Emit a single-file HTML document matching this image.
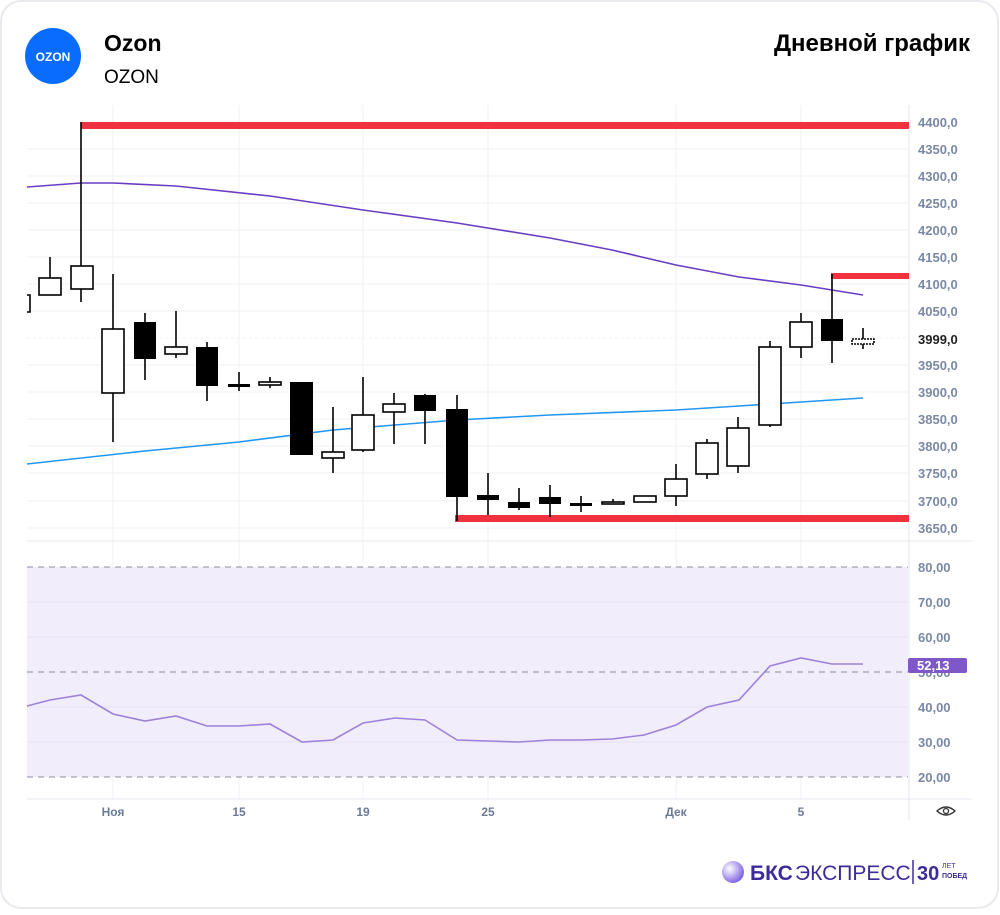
<!DOCTYPE html>
<html><head><meta charset="utf-8"><style>
body{margin:0;background:#fff;width:1000px;height:910px;overflow:hidden;font-family:"Liberation Sans",sans-serif}
</style></head><body>
<svg width="1000" height="910" viewBox="0 0 1000 910" xmlns="http://www.w3.org/2000/svg" font-family="Liberation Sans, sans-serif">
<rect x="1" y="1" width="997" height="907" rx="20" fill="#fff" stroke="#e8eaee" stroke-width="2"/>
<circle cx="53" cy="56" r="28" fill="#0a6cff"/>
<text x="53" y="61" text-anchor="middle" font-size="12" font-weight="bold" fill="#fff">OZON</text>
<text x="104" y="51" font-size="23" font-weight="bold" fill="#000">Ozon</text>
<text x="104" y="83" font-size="19" fill="#000">OZON</text>
<text x="970" y="51" text-anchor="end" font-size="24" font-weight="bold" fill="#000">Дневной график</text>
<g stroke="#f0f2f6" stroke-width="1">
<line x1="27" y1="149" x2="908" y2="149"/><line x1="27" y1="176" x2="908" y2="176"/><line x1="27" y1="203" x2="908" y2="203"/><line x1="27" y1="230" x2="908" y2="230"/><line x1="27" y1="257" x2="908" y2="257"/><line x1="27" y1="284" x2="908" y2="284"/><line x1="27" y1="311" x2="908" y2="311"/><line x1="27" y1="338" x2="908" y2="338" stroke-dasharray="3,3"/><line x1="27" y1="365" x2="908" y2="365"/><line x1="27" y1="392" x2="908" y2="392"/><line x1="27" y1="419" x2="908" y2="419"/><line x1="27" y1="446" x2="908" y2="446"/><line x1="27" y1="473" x2="908" y2="473"/><line x1="27" y1="501" x2="908" y2="501"/><line x1="27" y1="528" x2="908" y2="528"/>
<line x1="113" y1="105" x2="113" y2="800"/><line x1="239" y1="105" x2="239" y2="800"/><line x1="363" y1="105" x2="363" y2="800"/><line x1="488" y1="105" x2="488" y2="800"/><line x1="676" y1="105" x2="676" y2="800"/><line x1="801" y1="105" x2="801" y2="800"/>
</g>
<line x1="27" y1="541" x2="972" y2="541" stroke="#e6e9f0"/>
<line x1="27" y1="799" x2="972" y2="799" stroke="#e6e9f0"/>
<line x1="909" y1="105" x2="909" y2="820" stroke="#e1e5ee"/>
<rect x="27" y="567" width="881" height="210" fill="#f1edfa"/>
<g stroke="#8c8c99" stroke-width="1" stroke-dasharray="6,5"><line x1="27" y1="567" x2="908" y2="567"/><line x1="27" y1="672" x2="908" y2="672"/><line x1="27" y1="777" x2="908" y2="777"/></g>
<g stroke="#e8e4f5"><line x1="27" y1="602" x2="908" y2="602"/><line x1="27" y1="637" x2="908" y2="637"/><line x1="27" y1="707" x2="908" y2="707"/><line x1="27" y1="742" x2="908" y2="742"/></g>
<polyline fill="none" stroke="#9c82d8" stroke-width="1.6" points="27,706 50,700 81,695 113,714 145,721 176,716 207,726 239,726 270,724 302,742 333,740 363,723 395,718 425,720 457,740 488,741 519,742 550,740 581,740 612,739 644,735 676,725 707,707 739,700 770,666 801,658 832,664 863,664"/>
<polyline fill="none" stroke="#6a3dc4" stroke-width="1.6" points="27,187 81,183 113,183 176,186 270,196 363,210 457,223 550,238 612,250 676,265 739,277 801,285 863,295"/>
<polyline fill="none" stroke="#2196f3" stroke-width="1.6" points="27,464 145,451 239,442 333,430 457,420 550,415 676,410 739,406 801,402 863,398"/>
<rect x="81" y="122" width="828" height="7" fill="#f0323f"/>
<rect x="455" y="515" width="454" height="7" fill="#f0323f"/>
<rect x="831" y="273" width="78" height="6" fill="#f0323f"/>
<g stroke="#000" stroke-width="1.6">
<line x1="81" y1="122" x2="81" y2="302"/>
<line x1="50" y1="257" x2="50" y2="278"/>
<line x1="113" y1="274" x2="113" y2="442"/>
<line x1="145" y1="313" x2="145" y2="380"/>
<line x1="176" y1="311" x2="176" y2="358"/>
<line x1="207" y1="342" x2="207" y2="401"/>
<line x1="239" y1="372" x2="239" y2="391"/>
<line x1="270" y1="377" x2="270" y2="388"/>
<line x1="333" y1="407" x2="333" y2="473"/>
<line x1="363" y1="377" x2="363" y2="452"/>
<line x1="394" y1="393" x2="394" y2="444"/>
<line x1="425" y1="394" x2="425" y2="444"/>
<line x1="457" y1="395" x2="457" y2="521"/>
<line x1="488" y1="473" x2="488" y2="515"/>
<line x1="519" y1="488" x2="519" y2="510"/>
<line x1="550" y1="485" x2="550" y2="517"/>
<line x1="581" y1="496" x2="581" y2="512"/>
<line x1="613" y1="499" x2="613" y2="504"/>
<line x1="676" y1="464" x2="676" y2="506"/>
<line x1="707" y1="439" x2="707" y2="479"/>
<line x1="738" y1="417" x2="738" y2="473"/>
<line x1="770" y1="341" x2="770" y2="427"/>
<line x1="801" y1="313" x2="801" y2="358"/>
<line x1="832" y1="274" x2="832" y2="363"/>
<line x1="863" y1="328" x2="863" y2="349"/>
</g>
<g stroke="#000" stroke-width="1.6" fill="#fff">
<path d="M27,295 H30 V312 H27" />
<rect x="39" y="278" width="22" height="17"/>
<rect x="71" y="266" width="22" height="23"/>
<rect x="102" y="329" width="22" height="64"/>
<rect x="165" y="347" width="22" height="7"/>
<rect x="259" y="382" width="22" height="3"/>
<rect x="322" y="452" width="22" height="6"/>
<rect x="352" y="415" width="22" height="35"/>
<rect x="383" y="404" width="22" height="8"/>
<rect x="602" y="502" width="22" height="2"/>
<rect x="634" y="496" width="22" height="6"/>
<rect x="665" y="479" width="22" height="17"/>
<rect x="696" y="443" width="22" height="31"/>
<rect x="727" y="428" width="22" height="38"/>
<rect x="759" y="347" width="22" height="78"/>
<rect x="790" y="322" width="22" height="25"/>
<rect x="852" y="339" width="22" height="5" stroke-dasharray="2,1"/>
</g>
<g fill="#000">
<rect x="134" y="322" width="22" height="37"/>
<rect x="196" y="347" width="22" height="39"/>
<rect x="228" y="384" width="22" height="3"/>
<rect x="290" y="382" width="23" height="73"/>
<rect x="414" y="395" width="22" height="16"/>
<rect x="446" y="409" width="22" height="88"/>
<rect x="477" y="495" width="22" height="5"/>
<rect x="508" y="502" width="22" height="6"/>
<rect x="539" y="497" width="22" height="7"/>
<rect x="570" y="503" width="22" height="3"/>
<rect x="821" y="319" width="22" height="22"/>
</g>
<g font-size="13" font-weight="bold" fill="#7a88a6">
<text x="918" y="127">4400,0</text><text x="918" y="154">4350,0</text><text x="918" y="181">4300,0</text><text x="918" y="208">4250,0</text><text x="918" y="235">4200,0</text><text x="918" y="262">4150,0</text><text x="918" y="289">4100,0</text><text x="918" y="316">4050,0</text><text x="918" y="370">3950,0</text><text x="918" y="397">3900,0</text><text x="918" y="424">3850,0</text><text x="918" y="451">3800,0</text><text x="918" y="478">3750,0</text><text x="918" y="506">3700,0</text><text x="918" y="533">3650,0</text>
<text x="918" y="572">80,00</text><text x="918" y="607">70,00</text><text x="918" y="642">60,00</text><text x="918" y="677">50,00</text><text x="918" y="712">40,00</text><text x="918" y="747">30,00</text><text x="918" y="782">20,00</text>
</g>
<text x="918" y="344" font-size="13" font-weight="bold" fill="#222">3999,0</text>
<rect x="908" y="658" width="59" height="15" rx="2" fill="#7e57c9"/>
<text x="917" y="670" font-size="13" font-weight="bold" fill="#fff">52,13</text>
<g font-size="12" font-weight="bold" fill="#6b7a99" text-anchor="middle">
<text x="113" y="816">Ноя</text><text x="239" y="816">15</text><text x="363" y="816">19</text><text x="488" y="816">25</text><text x="676" y="816">Дек</text><text x="801" y="816">5</text>
</g>
<path d="M937,811 Q946,803 955,811 Q946,819 937,811 Z" fill="none" stroke="#333" stroke-width="1.4"/>
<circle cx="946" cy="811" r="2.5" fill="none" stroke="#333" stroke-width="1.3"/>
<defs><radialGradient id="g" cx="35%" cy="35%" r="70%"><stop offset="0" stop-color="#ffffff"/><stop offset="1" stop-color="#7b5fe0"/></radialGradient></defs>
<circle cx="733" cy="872" r="11" fill="url(#g)"/>
<text x="750" y="880" font-size="21" font-weight="bold" fill="#3d2b99">БКС</text>
<text x="795" y="880" font-size="21" fill="#3d2b99">ЭКСПРЕСС</text>
<line x1="913" y1="860" x2="913" y2="884" stroke="#3d2b99" stroke-width="1.5"/>
<text x="917" y="880" font-size="20" font-weight="bold" fill="#3d2b99">30</text>
<text x="942" y="868" font-size="7" fill="#3d2b99">ЛЕТ</text>
<text x="942" y="878" font-size="7" font-weight="bold" fill="#3d2b99">ПОБЕД</text>
</svg>
</body></html>
